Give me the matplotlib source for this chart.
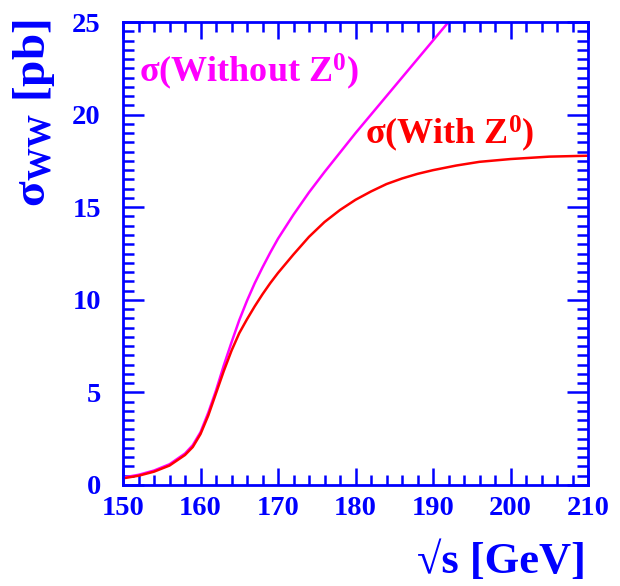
import matplotlib
matplotlib.use("Agg")
import matplotlib.pyplot as plt
from matplotlib.ticker import MultipleLocator

# sqrt(s) [GeV] and sigma_WW [pb]
e_with = [150, 152, 154, 156, 158, 159, 160, 161, 162, 163, 164, 165, 166, 167,
          168, 169, 170, 171, 172, 174, 176, 178, 180, 182, 184, 186, 188, 190,
          193, 196, 200, 205, 210]
sig_with = [0.36, 0.50, 0.72, 1.05, 1.62, 2.05, 2.75, 3.75, 4.95, 6.15, 7.25, 8.2,
            8.95, 9.65, 10.3, 10.9, 11.45, 11.95, 12.45, 13.4, 14.2, 14.85, 15.4,
            15.85, 16.25, 16.55, 16.8, 17.0, 17.25, 17.45, 17.6, 17.73, 17.78]

e_without = [150, 152, 154, 156, 158, 159, 160, 161, 162, 163, 164, 165, 166, 167,
             168, 169, 170, 171, 172, 173, 174, 176, 178, 180, 182, 184, 186, 188,
             190, 192]
sig_without = [0.40, 0.55, 0.78, 1.12, 1.70, 2.15, 2.85, 3.90, 5.10, 6.45, 7.7, 8.9,
               9.95, 10.9, 11.75, 12.55, 13.3, 13.95, 14.6, 15.2, 15.8, 16.9, 17.95,
               19.0, 20.0, 21.0, 22.0, 23.0, 24.0, 25.0]

x_ticks = [150, 160, 170, 180, 190, 200, 210]
y_ticks = [0, 5, 10, 15, 20, 25]

blue = "#0000ff"
plt.rcParams['font.family'] = ['Liberation Serif', 'DejaVu Serif']
plt.rcParams['font.weight'] = 'bold'
plt.rcParams['mathtext.default'] = 'regular'

fig = plt.figure(figsize=(6.2, 5.86), dpi=100)
ax = fig.add_axes([123/620, 1-485/586, (588-123)/620, (485-22)/586])

ax.plot(e_without, sig_without, color="#ff00ff", lw=1.8)
ax.plot(e_with, sig_with, color="#ff0000", lw=1.8)

ax.set_xlim(150, 210)
ax.set_ylim(0, 25)
ax.set_xticks(x_ticks)
ax.set_yticks(y_ticks)
ax.xaxis.set_minor_locator(MultipleLocator(2))
ax.yaxis.set_minor_locator(MultipleLocator(0.5))

for s in ax.spines.values():
    s.set_color(blue)
    s.set_linewidth(2)
ax.tick_params(which='both', direction='in', top=True, right=True, colors=blue,
               width=1.8, labelsize=20.5, labelcolor=blue)
ax.tick_params(axis='y', which='major', length=15, pad=16)
ax.tick_params(axis='y', which='minor', length=8)
ax.tick_params(axis='x', which='major', length=12, pad=8)
ax.tick_params(axis='x', which='minor', length=7)
for lab in ax.get_xticklabels() + ax.get_yticklabels():
    lab.set_fontweight('bold')

ax.text(0.034, 0.871, "σ(Without Z$^{0}$)", transform=ax.transAxes, color="#ff00ff",
        fontsize=26, fontweight='bold', va='baseline', ha='left')
ax.text(0.52, 0.736, "σ(With Z$^{0}$)", transform=ax.transAxes, color="#ff0000",
        fontsize=26, fontweight='bold', va='baseline', ha='left')

fig.text(34/620, 1-19/586, "σ$_{WW}$ [pb]", rotation=90, ha='center', va='top',
         color=blue, fontsize=34, fontweight='bold')
fig.text(586/620, 1-582/586, "√s [GeV]", ha='right', va='bottom',
         color=blue, fontsize=32, fontweight='bold')

fig.savefig("out.png", dpi=100)
